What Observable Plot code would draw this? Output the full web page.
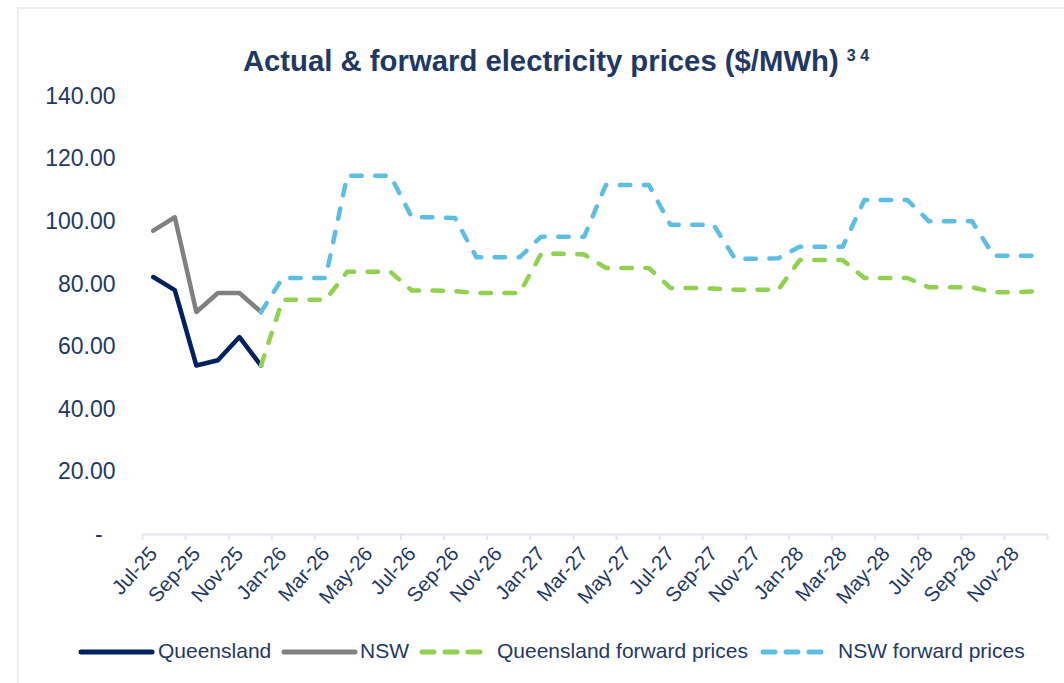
<!DOCTYPE html>
<html>
<head>
<meta charset="utf-8">
<script src="https://cdn.jsdelivr.net/npm/d3@7"></script>
<script src="https://cdn.jsdelivr.net/npm/@observablehq/plot@0.6"></script>
<style>
  html, body { margin:0; padding:0; background:#fff; width:1064px; height:683px; overflow:hidden;
    font-family:"Liberation Sans", Arial, sans-serif; }
  #frame { position:absolute; left:17px; top:7px; width:1100px; height:700px;
    border-left:2px solid #efefef; border-top:2px solid #efefef; }
  #title { position:absolute; top:41px; left:24px; width:1064px; text-align:center;
    font-size:29.3px; font-weight:bold; color:#1f3864; line-height:29px; white-space:nowrap; }
  #title .sup { font-size:16px; vertical-align:10px; }
  #chart { position:absolute; left:0; top:0; }
  .legtext { position:absolute; font-size:21px; line-height:24px; color:#1f3864; white-space:nowrap; }
  .legline { position:absolute; }
</style>
</head>
<body>
<div id="frame"></div>
<div id="chart"></div>
<div id="title">Actual &amp; forward electricity prices ($/MWh) <span class="sup">3 4</span></div>
<div id="legend"></div>
<script>
const months = ["Jul-25","Aug-25","Sep-25","Oct-25","Nov-25","Dec-25",
  "Jan-26","Feb-26","Mar-26","Apr-26","May-26","Jun-26","Jul-26","Aug-26","Sep-26","Oct-26","Nov-26","Dec-26",
  "Jan-27","Feb-27","Mar-27","Apr-27","May-27","Jun-27","Jul-27","Aug-27","Sep-27","Oct-27","Nov-27","Dec-27",
  "Jan-28","Feb-28","Mar-28","Apr-28","May-28","Jun-28","Jul-28","Aug-28","Sep-28","Oct-28","Nov-28","Dec-28"];

// Actuals: Jul-25 .. Dec-25
const qldActual = [82.3, 78.1, 54.0, 55.7, 63.1, 54.0];
const nswActual = [97.1, 101.4, 71.1, 77.2, 77.2, 71.1];

// Forwards: Dec-25 .. Dec-28
const qldForward = [54.0,
  75.0, 75.0, 75.0, 84.0, 84.0, 84.0, 78.0, 78.0, 77.8, 77.2, 77.2, 77.2,
  89.7, 89.7, 89.5, 85.2, 85.2, 85.2, 78.8, 78.8, 78.6, 78.2, 78.2, 78.2,
  87.7, 87.7, 87.7, 82.0, 82.0, 82.0, 79.0, 79.0, 79.0, 77.4, 77.4, 77.7];
const nswForward = [71.1,
  82.0, 82.0, 82.0, 114.7, 114.7, 114.7, 101.4, 101.4, 101.2, 88.6, 88.6, 88.6,
  95.2, 95.2, 95.2, 111.7, 111.7, 111.7, 99.0, 99.0, 99.0, 88.1, 88.1, 88.3,
  92.0, 92.0, 92.0, 106.9, 106.9, 106.9, 100.1, 100.1, 100.1, 89.1, 89.1, 89.1];

const yTicks = [0, 20, 40, 60, 80, 100, 120, 140];

const seriesNames = ["Queensland", "NSW", "Queensland forward prices", "NSW forward prices"];
const seriesColors = ["#002060", "#808080", "#92d050", "#5ebde3"];
const seriesDashed = [false, false, true, true];

const toRows = (vals, start) => vals.map((v, k) => ({i: start + k, v}));
const labelIdx = months.map((m, i) => i).filter(i => i % 2 === 0);
const boundaries = labelIdx.map(i => i - 0.5).concat([months.length - 0.5]);

const txt = "#1f3864";
const dash = "10.5 13.5";

const lineOpts = (k) => ({
  x: "i", y: "v", stroke: seriesColors[k], strokeWidth: 4.5,
  strokeLinecap: "round", strokeLinejoin: "round",
  strokeDasharray: seriesDashed[k] ? dash : null
});

const chart = Plot.plot({
  width: 1064, height: 630,
  marginLeft: 142, marginRight: 17, marginTop: 96, marginBottom: 96,
  x: {type: "linear", domain: [-0.5, months.length - 0.5], axis: null},
  y: {domain: [0, 140], axis: null},
  style: {fontFamily: "Liberation Sans, Arial, sans-serif", color: txt, background: "transparent", overflow: "visible"},
  marks: [
    Plot.ruleY([0], {stroke: "#e2e6ee", strokeWidth: 2}),
    Plot.axisX(boundaries, {tickSize: 6, tickFormat: () => "", label: null, stroke: "#e2e6ee", strokeWidth: 2}),
    Plot.axisY(yTicks, {tickSize: 0, tickPadding: 27, fontSize: 23, fill: txt, label: null,
      tickFormat: d => d === 0 ? "-\u2007" : d.toFixed(2)}),
    Plot.text(labelIdx, {x: d => d, text: d => months[d], frameAnchor: "bottom",
      rotate: -48, textAnchor: "end", dx: 5, dy: 20, fontSize: 20.5, fill: txt}),
    Plot.line(toRows(qldActual, 0), lineOpts(0)),
    Plot.line(toRows(nswActual, 0), lineOpts(1)),
    Plot.line(toRows(qldForward, 5), lineOpts(2)),
    Plot.line(toRows(nswForward, 5), lineOpts(3))
  ]
});
document.getElementById("chart").appendChild(chart);

// Legend (below the chart)
const legend = document.getElementById("legend");
const legPos = [
  {line: [81, 152], text: 158},
  {line: [284, 355], text: 360},
  {line: [422, 484], text: 497},
  {line: [763, 825], text: 838}
];
const legY = 652;
seriesNames.forEach((name, k) => {
  const p = legPos[k];
  const w = p.line[1] - p.line[0] + 10;
  const svg = d3.create("svg").attr("class", "legline")
    .attr("width", w).attr("height", 12)
    .style("left", (p.line[0] - 5) + "px").style("top", (legY - 6) + "px");
  svg.append("line").attr("x1", 5).attr("x2", w - 5).attr("y1", 6).attr("y2", 6)
    .attr("stroke", seriesColors[k]).attr("stroke-width", 5)
    .attr("stroke-linecap", "round")
    .attr("stroke-dasharray", seriesDashed[k] ? "12 11" : null);
  legend.appendChild(svg.node());
  const t = document.createElement("div");
  t.className = "legtext";
  t.textContent = name;
  t.style.left = p.text + "px";
  t.style.top = (legY - 13) + "px";
  legend.appendChild(t);
});
</script>
</body>
</html>
